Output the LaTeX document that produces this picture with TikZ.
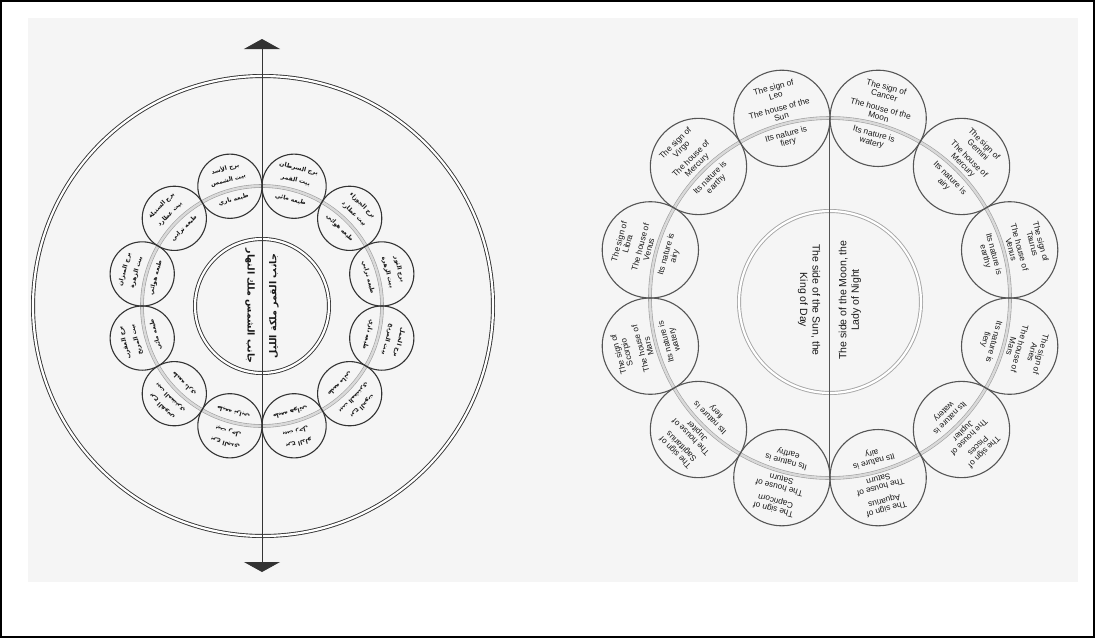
\documentclass[tikz,border=0pt]{standalone}
\usepackage{fontspec}
\setmainfont{Liberation Sans}
\newfontfamily\arabicfont[Script=Arabic]{DejaVu Sans}
\TeXXeTstate=1
\usetikzlibrary{arrows.meta}
\definecolor{scan}{HTML}{F5F5F5}
\definecolor{ink}{HTML}{333333}
\definecolor{rink}{HTML}{555555}
\begin{document}
\begin{tikzpicture}[x=1pt,y=-1pt,
  lzc/.style={circle,draw=ink,line width=1.1pt,inner sep=0pt,minimum size=64.2pt},
  rzc/.style={circle,draw=rink,line width=1.1pt,inner sep=0pt,minimum size=96.3pt},
  rtxt/.style={align=center,inner sep=0pt,text=black!90,font=\fontsize{8.3}{8.6}\selectfont},
  ltxt/.style={align=center,inner sep=0pt,text=black!90,font=\arabicfont\bfseries\fontsize{6}{6.5}\selectfont},
  ctxt/.style={align=center,inner sep=0pt,text=black!90,font=\fontsize{10.5}{12.5}\selectfont},
  lctxt/.style={inner sep=0pt,text=black!90,font=\arabicfont\bfseries\fontsize{9.5}{10.5}\selectfont},
  band/.style={draw=gray!75,line width=0.6pt,double=gray!30,double distance=2.4pt},
  dring/.style={circle,draw=#1,line width=0.9pt,double=white,double distance=2.2pt,inner sep=0pt},
  axis/.style={draw=ink,line width=1pt},
  bigtips/.style={arrows={Triangle[width=36pt,length=10pt]-Triangle[width=36pt,length=10pt]}}
]
\useasboundingbox (0,0) rectangle (1095,638);
\fill[white] (0,0) rectangle (1095,638);
\fill[scan] (28,18) rectangle (1078,582);
\draw[black,line width=2pt] (1,1) rectangle (1094,637);

% ---------------- left diagram ----------------
\node[dring=ink,minimum size=460pt] (lout) at (263,306) {};
\node[dring=ink,minimum size=134pt] (lcen) at (262,306) {};
\draw[band] (262,306) circle[radius=120pt];
\foreach \a/\s/\h/\n [count=\i] in {
  75/السرطان/القمر/مائي, 105/الأسد/الشمس/ناري, 135/السنبلة/عطارد/ترابي,
  165/الميزان/الزهرة/هوائي, 195/العقرب/المريخ/مائي, 225/القوس/المشتري/ناري,
  255/الجدي/زحل/ترابي, 285/الدلو/زحل/هوائي, 315/الحوت/المشتري/مائي,
  345/الحمل/المريخ/ناري, 15/الثور/الزهرة/ترابي, 45/الجوزاء/عطارد/هوائي}{
  \node[lzc] (lc\i) at ({262+124*cos(\a)},{306-124*sin(\a)}) {};
  \node[ltxt,rotate=\a-90] (ls\i) at ({262+142*cos(\a)},{306-142*sin(\a)}) {\beginR برج \s\endR};
  \node[ltxt,rotate=\a-90] (lh\i) at ({262+130*cos(\a)},{306-130*sin(\a)}) {\beginR بيت \h\endR};
  \node[ltxt,rotate=\a-90] (ln\i) at ({262+110*cos(\a)},{306-110*sin(\a)}) {\beginR طبعه \n\endR};
}
\node[lctxt,rotate=-90] (lsun) at (250,306) {\beginR جانب الشمس ملك النهار\endR};
\node[lctxt,rotate=90] (lmoon) at (274,306) {\beginR جانب القمر ملكة الليل\endR};
\coordinate (ltop) at (262,39);
\coordinate (lbot) at (262,572);
\draw[axis,bigtips] (ltop) -- (lbot);

% ---------------- right diagram ----------------
\node[dring=gray!70,minimum size=182pt] (rcen) at (830,302) {};
\draw[band] (830,298) circle[radius=180pt];
\foreach \a/\s/\h/\n [count=\i] in {
  75/Cancer/{the\\Moon}/watery, 105/Leo/{the\\Sun}/fiery, 135/Virgo/{\\Mercury}/earthy,
  165/Libra/{\\Venus}/airy, 195/Scorpio/{\\Mars}/watery, 225/Sagittarius/{\\Jupiter}/fiery,
  255/Capricorn/{\\Saturn}/earthy, 285/Aquarius/{\\Saturn}/airy, 315/Pisces/{\\Jupiter}/watery,
  345/Aries/{\\Mars}/fiery, 15/Taurus/{\\Venus}/earthy, 45/Gemini/{\\Mercury}/airy}{
  \node[rzc] (rc\i) at ({830+186*cos(\a)},{298-186*sin(\a)}) {};
  \node[rtxt,rotate=\a-90] (rs\i) at ({830+214*cos(\a)},{298-214*sin(\a)}) {The sign of\\\s};
  \node[rtxt,rotate=\a-90] (rh\i) at ({830+192*cos(\a)},{298-192*sin(\a)}) {The house of \h};
  \node[rtxt,rotate=\a-90] (rn\i) at ({830+165*cos(\a)},{298-165*sin(\a)}) {Its nature is\\\n};
}
\draw[axis,draw=rink] (rc1.west) -- (rc8.west);
\node[ctxt,rotate=-90] (rsun) at (809,300) {The side of the Sun, the\\King of Day};
\node[ctxt,rotate=90] (rmoon) at (850,300) {The side of the Moon, the\\Lady of Night};
\end{tikzpicture}
\end{document}
